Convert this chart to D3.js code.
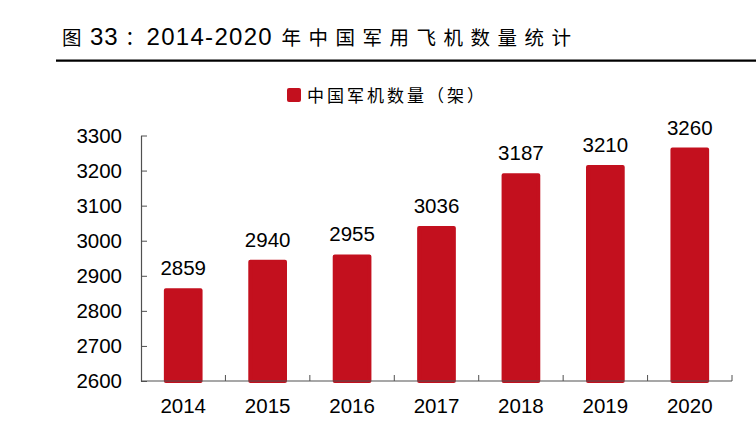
<!DOCTYPE html>
<html><head><meta charset="utf-8">
<script src="https://cdn.jsdelivr.net/npm/d3@7"></script>
<style>body{margin:0;background:#fff}svg{display:block}</style>
</head><body>
<svg id="c" width="756" height="447"></svg>
<script>
const categories = ["2014","2015","2016","2017","2018","2019","2020"];
const values = [2859, 2940, 2955, 3036, 3187, 3210, 3260];
const yTicks = [2600,2700,2800,2900,3000,3100,3200,3300];
const seriesName = "中国军机数量（架）";
const titleParts = ["图", "33", "：", "2014-2020", "年中国军用飞机数量统计"];

(function(){
const svg = d3.select("#c");
const color = "#C3101E";
const axisColor = "#505050";
const pLeft = 141, pRight = 732, pTop = 135.5, pBottom = 381;
const cjk = "'Noto Sans CJK SC',sans-serif";
const lat = "'Liberation Sans',Arial,sans-serif";

// title
const title = svg.append("text").attr("y", 45).attr("fill", "#000");
const tstyle = [
  {x: 62, f: cjk, s: 19.5, ls: 0},
  {x: 90, f: lat, s: 24, ls: 1},
  {x: 125, f: cjk, s: 19.5, ls: 0},
  {x: 146.5, f: lat, s: 24, ls: 1.3},
  {x: 281.5, f: cjk, s: 19.5, ls: 7.5}
];
titleParts.forEach((t, i) => {
  title.append("tspan").attr("x", tstyle[i].x)
    .attr("font-family", tstyle[i].f).attr("font-size", tstyle[i].s)
    .attr("letter-spacing", tstyle[i].ls).text(t);
});
svg.append("line").attr("x1", 56).attr("x2", 756).attr("y1", 60.7).attr("y2", 60.7)
  .attr("stroke", "#000").attr("stroke-width", 2.2);

// legend
svg.append("rect").attr("x", 287).attr("y", 88).attr("width", 14).attr("height", 14)
  .attr("rx", 2).attr("fill", color);
svg.append("text").attr("x", 307).attr("y", 101.5)
  .attr("font-family", cjk).attr("letter-spacing", 3)
  .attr("font-size", 17).attr("fill", "#000").text(seriesName);

const x = d3.scaleBand().domain(categories).range([pLeft, pRight]).paddingInner(0.589).paddingOuter(0.2945);
const y = d3.scaleLinear().domain([2600, 3300]).range([pBottom, pTop]);

// bars
svg.append("g").selectAll("rect").data(values).join("rect")
  .attr("x", (d, i) => x(categories[i]))
  .attr("width", x.bandwidth())
  .attr("y", d => y(d))
  .attr("height", d => y(2600) - y(d))
  .attr("fill", color).attr("stroke", color)
  .attr("stroke-width", 4).attr("stroke-linejoin", "round");

// value labels
svg.append("g").selectAll("text").data(values).join("text")
  .attr("x", (d, i) => x(categories[i]) + x.bandwidth() / 2)
  .attr("y", d => y(d) - 15)
  .attr("text-anchor", "middle")
  .attr("font-family", lat)
  .attr("font-size", 20.5).attr("fill", "#000").text(d => d);

// y axis
const yAxis = d3.axisLeft(y).tickValues(yTicks).tickSizeInner(-6).tickSizeOuter(0).tickPadding(19).tickFormat(d3.format("d"));
const gy = svg.append("g").attr("transform", `translate(${pLeft},0)`).call(yAxis);
gy.select(".domain").attr("stroke", axisColor).attr("stroke-width", 1.2);
gy.selectAll(".tick line").attr("stroke", axisColor);
gy.selectAll(".tick text").attr("font-family", lat)
  .attr("font-size", 20.5).attr("fill", "#000");

// x axis
const step = x.step();
const gx = svg.append("g").attr("transform", `translate(0,${pBottom})`);
gx.append("line").attr("x1", pLeft).attr("x2", pRight).attr("y1", 0).attr("y2", 0).attr("stroke", axisColor).attr("stroke-width", 1.2);
const bounds = d3.range(1, categories.length + 1).map(i => pLeft + i * step);
gx.selectAll("line.t").data(bounds).join("line").attr("class", "t")
  .attr("x1", d => d).attr("x2", d => d).attr("y1", 0).attr("y2", -6).attr("stroke", axisColor);
gx.selectAll("text").data(categories).join("text")
  .attr("x", d => x(d) + x.bandwidth() / 2).attr("y", 32)
  .attr("text-anchor", "middle")
  .attr("font-family", lat)
  .attr("font-size", 20.5).attr("fill", "#000").text(d => d);
})();
</script>
</body></html>
